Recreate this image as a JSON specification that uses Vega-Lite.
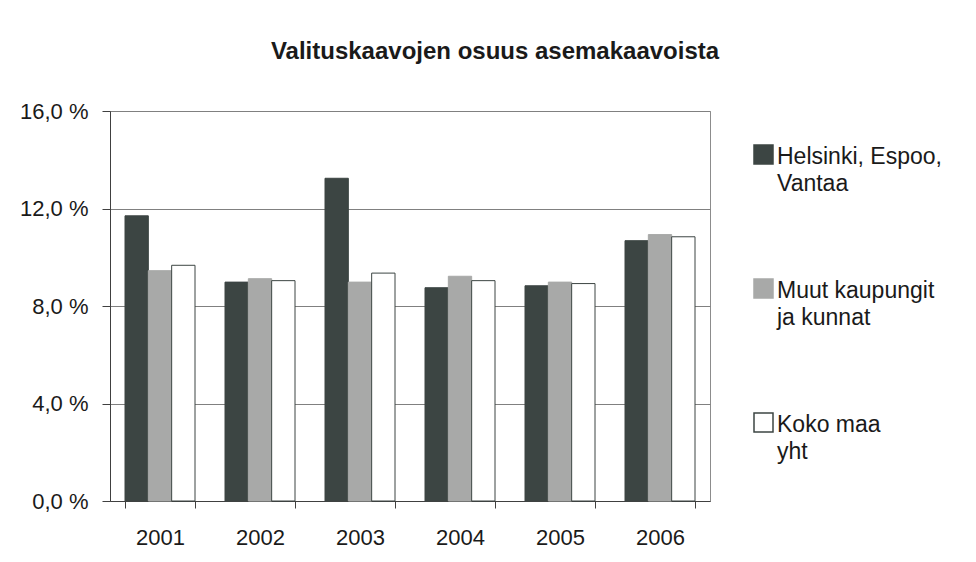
{
  "$schema": "https://vega.github.io/schema/vega-lite/v6.json",
  "width": 600,
  "height": 390,
  "autosize": {"type": "none"},
  "padding": {"left": 110, "top": 111, "right": 266, "bottom": 61},
  "background": "white",
  "config": {
    "font": "Liberation Sans",
    "view": {"stroke": "#8c8c8c", "strokeWidth": 1}
  },
  "title": {
    "text": "Valituskaavojen osuus asemakaavoista",
    "fontSize": 24,
    "fontWeight": "bold",
    "color": "#1a1a1a",
    "anchor": "middle",
    "frame": "group",
    "dx": 85,
    "offset": 17,
    "baseline": "alphabetic"
  },
  "data": {
    "values": [
      {"vuosi": "2001", "sarja": "Helsinki, Espoo, Vantaa", "osuus": 11.70},
      {"vuosi": "2001", "sarja": "Muut kaupungit ja kunnat", "osuus": 9.45},
      {"vuosi": "2001", "sarja": "Koko maa yht", "osuus": 9.67},
      {"vuosi": "2002", "sarja": "Helsinki, Espoo, Vantaa", "osuus": 8.98},
      {"vuosi": "2002", "sarja": "Muut kaupungit ja kunnat", "osuus": 9.12},
      {"vuosi": "2002", "sarja": "Koko maa yht", "osuus": 9.04},
      {"vuosi": "2003", "sarja": "Helsinki, Espoo, Vantaa", "osuus": 13.24},
      {"vuosi": "2003", "sarja": "Muut kaupungit ja kunnat", "osuus": 8.98},
      {"vuosi": "2003", "sarja": "Koko maa yht", "osuus": 9.35},
      {"vuosi": "2004", "sarja": "Helsinki, Espoo, Vantaa", "osuus": 8.75},
      {"vuosi": "2004", "sarja": "Muut kaupungit ja kunnat", "osuus": 9.22},
      {"vuosi": "2004", "sarja": "Koko maa yht", "osuus": 9.04},
      {"vuosi": "2005", "sarja": "Helsinki, Espoo, Vantaa", "osuus": 8.83},
      {"vuosi": "2005", "sarja": "Muut kaupungit ja kunnat", "osuus": 8.98},
      {"vuosi": "2005", "sarja": "Koko maa yht", "osuus": 8.92},
      {"vuosi": "2006", "sarja": "Helsinki, Espoo, Vantaa", "osuus": 10.68},
      {"vuosi": "2006", "sarja": "Muut kaupungit ja kunnat", "osuus": 10.93},
      {"vuosi": "2006", "sarja": "Koko maa yht", "osuus": 10.84}
    ]
  },
  "mark": {"type": "bar", "strokeWidth": 1},
  "encoding": {
    "x": {
      "field": "vuosi",
      "type": "nominal",
      "scale": {"paddingInner": 0.3, "paddingOuter": 0.15},
      "axis": {
        "title": null,
        "labelAngle": 0,
        "labelFontSize": 22,
        "labelColor": "#1a1a1a",
        "labelPadding": 19,
        "tickBand": "extent",
        "tickSize": 7,
        "tickColor": "#404040",
        "domainColor": "#404040",
        "grid": false
      }
    },
    "xOffset": {
      "field": "sarja",
      "type": "nominal",
      "sort": ["Helsinki, Espoo, Vantaa", "Muut kaupungit ja kunnat", "Koko maa yht"]
    },
    "y": {
      "field": "osuus",
      "type": "quantitative",
      "scale": {"domain": [0, 16]},
      "axis": {
        "title": null,
        "values": [0, 4, 8, 12, 16],
        "labelExpr": "replace(format(datum.value, '.1f'), '.', ',') + ' %'",
        "labelFontSize": 22,
        "labelColor": "#1a1a1a",
        "tickSize": 8,
        "labelPadding": 14,
        "gridColor": "#808080",
        "domainColor": "#404040",
        "tickColor": "#404040"
      }
    },
    "color": {
      "field": "sarja",
      "type": "nominal",
      "scale": {
        "domain": ["Helsinki, Espoo, Vantaa", "Muut kaupungit ja kunnat", "Koko maa yht"],
        "range": ["#3c4543", "#a8a9a8", "#ffffff"]
      },
      "legend": {
        "title": null,
        "orient": "none",
        "legendX": 642,
        "legendY": 32,
        "padding": 0,
        "symbolType": "square",
        "symbolSize": 361,
        "symbolStrokeWidth": 1.5,
        "labelFontSize": 23,
        "labelColor": "#1a1a1a",
        "labelBaseline": "alphabetic",
        "labelOffset": 2,
        "labelLimit": 300,
        "rowPadding": 80,
        "labelExpr": "datum.label == 'Helsinki, Espoo, Vantaa' ? ['Helsinki, Espoo,', 'Vantaa'] : datum.label == 'Muut kaupungit ja kunnat' ? ['Muut kaupungit', 'ja kunnat'] : ['Koko maa', 'yht']",
        "encode": {
          "labels": {"update": {"dy": {"value": 9}, "lineHeight": {"value": 27.5}}}
        }
      }
    },
    "stroke": {
      "field": "sarja",
      "type": "nominal",
      "scale": {
        "domain": ["Helsinki, Espoo, Vantaa", "Muut kaupungit ja kunnat", "Koko maa yht"],
        "range": ["#3c4543", "#a8a9a8", "#3c4543"]
      }
    }
  }
}
